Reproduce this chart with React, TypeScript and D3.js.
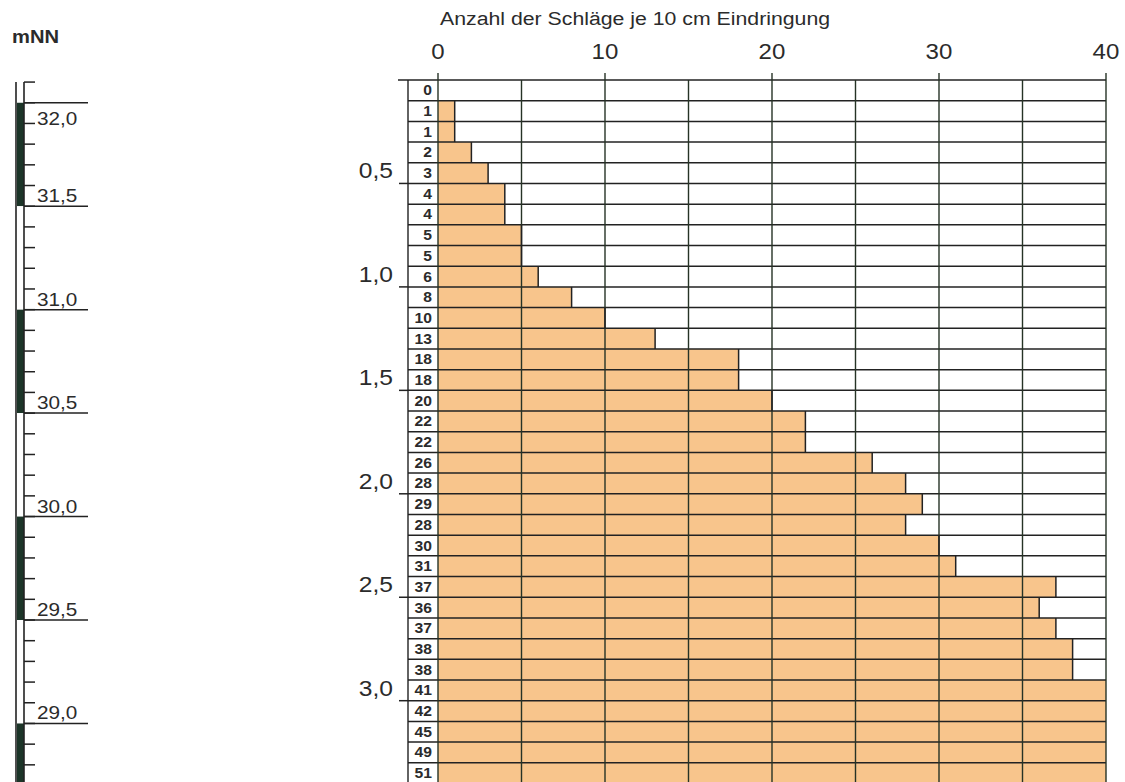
import { useEffect, useRef } from "react";
import * as d3 from "d3";

// Schläge je 10 cm, von oben nach unten
const blows = [
	0, 1, 1, 2, 3, 4, 4, 5, 5, 6, 8, 10, 13, 18, 18, 20, 22, 22, 26, 28, 29, 28, 30, 31, 37, 36, 37,
	38, 38, 41, 42, 45, 49, 51,
];
const blowTicks = [0, 10, 20, 30, 40];
const gridTicks = [0, 5, 10, 15, 20, 25, 30, 35, 40];
const depthTicks = [0.5, 1.0, 1.5, 2.0, 2.5, 3.0];
const elevationLabels = [32.0, 31.5, 31.0, 30.5, 30.0, 29.5, 29.0];
const layerBounds = [32.1, 32.0, 31.5, 31.0, 30.5, 30.0, 29.5, 29.0, 28.7];
const layerDark = [false, true, false, true, false, true, false, true];
const groundLevel = 32.11;
const stepDepth = 0.1;

const WIDTH = 1125;
const HEIGHT = 782;
const FONT = "'Liberation Sans', Arial, sans-serif";
const INK = "#2b2b2b";
const LINE = "#222";
const BAR = "#f8c58c";
const DARK = "#1c3528";
const STRETCH = 1.12;

const comma = (value: number) => value.toFixed(1).replace(".", ",");

export default function App() {
	const ref = useRef<SVGSVGElement>(null);

	useEffect(() => {
		if (!ref.current) {
			return;
		}

		const svg = d3.select(ref.current);
		svg.selectAll("*").remove();

		const x = d3.scaleLinear().domain([0, 40]).range([438, 1106]);
		const y = d3
			.scaleLinear()
			.domain([0, blows.length * stepDepth])
			.range([80, 80 + blows.length * 20.69]);
		const elevY = (elev: number) => y(groundLevel - elev);

		const boxLeft = 408;

		const addText = (
			parent: d3.Selection<SVGGElement, unknown, null, undefined>,
			tx: number,
			ty: number,
			label: string,
			size: number,
			anchor: string,
			weight = "normal"
		) =>
			parent
				.append("text")
				.attr("transform", `translate(${tx},${ty}) scale(${STRETCH},1)`)
				.attr("font-family", FONT)
				.attr("font-size", size)
				.attr("font-weight", weight)
				.attr("fill", INK)
				.attr("text-anchor", anchor)
				.text(label);

		const root = svg.append("g");

		// Titel
		addText(root, 440, 25, "Anzahl der Schläge je 10 cm Eindringung", 19, "start");
		addText(root, 12, 43, "mNN", 18, "start", "bold");

		// Balken
		const rows = root.append("g");
		rows
			.selectAll("rect")
			.data(blows)
			.join("rect")
			.attr("x", x(0))
			.attr("y", (_, i) => y(i * stepDepth))
			.attr("width", (d) => x(Math.min(d, 40)) - x(0))
			.attr("height", y(stepDepth) - y(0))
			.attr("fill", BAR);

		// Zeilenlinien
		const rowEdges = d3.range(0, blows.length + 1);
		root
			.append("g")
			.selectAll("line")
			.data(rowEdges)
			.join("line")
			.attr("x1", (i) => (i === 0 ? 398 : boxLeft))
			.attr("x2", x(40))
			.attr("y1", (i) => y(i * stepDepth))
			.attr("y2", (i) => y(i * stepDepth))
			.attr("stroke", LINE)
			.attr("stroke-width", 1.5);

		// Senkrechte Gitterlinien
		root
			.append("g")
			.selectAll("line")
			.data(gridTicks)
			.join("line")
			.attr("x1", (d) => x(d))
			.attr("x2", (d) => x(d))
			.attr("y1", (d) => (d % 10 === 0 ? y(0) - 7 : y(0)))
			.attr("y2", HEIGHT)
			.attr("stroke", "#263326")
			.attr("stroke-width", 1.4);

		// Balkenkanten
		root
			.append("g")
			.selectAll("line")
			.data(blows.map((d, i) => ({ d, i })).filter((r) => r.d > 0 && r.d < 40))
			.join("line")
			.attr("x1", (r) => x(r.d))
			.attr("x2", (r) => x(r.d))
			.attr("y1", (r) => y(r.i * stepDepth))
			.attr("y2", (r) => y((r.i + 1) * stepDepth))
			.attr("stroke", LINE)
			.attr("stroke-width", 1.5);

		// Zahlenkästchen
		root
			.append("line")
			.attr("x1", boxLeft)
			.attr("x2", boxLeft)
			.attr("y1", y(0))
			.attr("y2", HEIGHT)
			.attr("stroke", LINE)
			.attr("stroke-width", 1.4);

		const labels = root.append("g");
		blows.forEach((d, i) => {
			addText(labels, 432, y((i + 0.5) * stepDepth) + 5, String(d), 14, "end", "bold");
		});

		// Obere Achse
		const top = root.append("g");
		blowTicks.forEach((t) => addText(top, x(t), 59, String(t), 21.5, "middle"));

		// Tiefenachse
		const depth = root.append("g");
		depthTicks.forEach((t) => {
			depth
				.append("line")
				.attr("x1", 399)
				.attr("x2", boxLeft)
				.attr("y1", y(t))
				.attr("y2", y(t))
				.attr("stroke", LINE)
				.attr("stroke-width", 1.5);
			addText(depth, 393, y(t) - 5, comma(t), 22, "end");
		});

		// Höhenmaßstab links
		const scale = root.append("g");
		const barLeft = 17;
		const barRight = 24;
		layerDark.forEach((dark, i) => {
			scale
				.append("rect")
				.attr("x", barLeft)
				.attr("y", elevY(layerBounds[i]))
				.attr("width", barRight - barLeft)
				.attr("height", elevY(layerBounds[i + 1]) - elevY(layerBounds[i]))
				.attr("fill", dark ? DARK : "#fff");
		});
		[barLeft - 1, barRight].forEach((lx) => {
			scale
				.append("line")
				.attr("x1", lx)
				.attr("x2", lx)
				.attr("y1", elevY(layerBounds[0]))
				.attr("y2", HEIGHT)
				.attr("stroke", LINE)
				.attr("stroke-width", 1.6);
		});

		const minorTicks = d3.range(0, 34).map((i) => +(32.1 - i * 0.1).toFixed(1));
		scale
			.append("g")
			.selectAll("line")
			.data(minorTicks)
			.join("line")
			.attr("x1", barRight)
			.attr("x2", barRight + 11)
			.attr("y1", (d) => elevY(d))
			.attr("y2", (d) => elevY(d))
			.attr("stroke", LINE)
			.attr("stroke-width", 1.5);

		elevationLabels.forEach((e, i) => {
			scale
				.append("line")
				.attr("x1", barRight)
				.attr("x2", 88)
				.attr("y1", elevY(e))
				.attr("y2", elevY(e))
				.attr("stroke", LINE)
				.attr("stroke-width", 1.5);
			addText(scale, 37, i === 0 ? elevY(e) + 22 : elevY(e) - 4, comma(e), 18.5, "start");
		});
	}, []);

	return (
		<svg
			ref={ref}
			width={WIDTH}
			height={HEIGHT}
			style={{ position: "absolute", left: 0, top: 0, background: "#fff" }}
		/>
	);
}
